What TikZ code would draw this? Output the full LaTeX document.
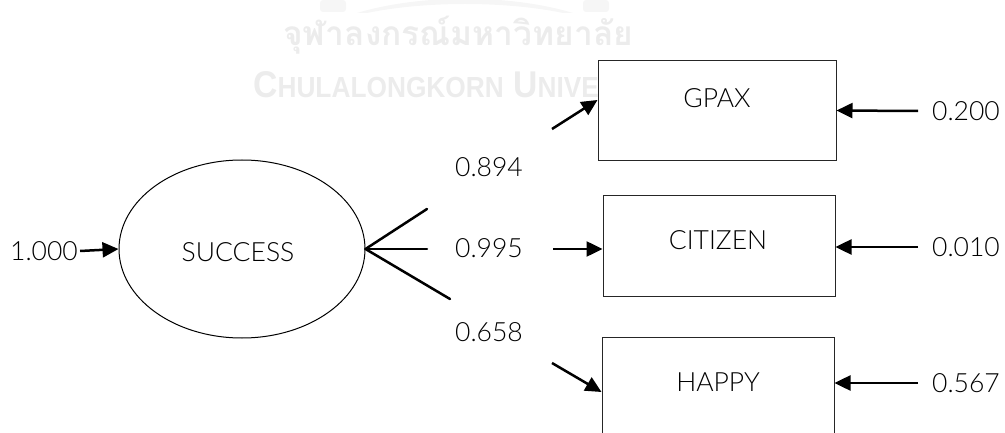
\documentclass[tikz,border=0pt]{standalone}
\usepackage{fontspec}
\IfFontExistsTF{Lato Light}{%
  \setmainfont{Lato Light}\newcommand{\lblsize}{\fontsize{26.5}{32}\selectfont}}{%
  \setmainfont{Carlito}\newcommand{\lblsize}{\fontsize{30}{36}\selectfont}}
\newfontfamily\thaiwm[Script=Thai]{Loma}
\newfontfamily\latinwm{Liberation Sans}
\usetikzlibrary{arrows.meta,shapes.geometric}
\definecolor{wmgray}{RGB}{236,236,236}
\definecolor{logogray}{RGB}{246,246,246}
\begin{document}
\begin{tikzpicture}[x=1pt,y=-1pt,
  lbl/.style={font=\lblsize, inner sep=0pt},
  wmtext/.style={text=wmgray, inner sep=0pt},
  obsbox/.style={draw=black!85, line width=1pt, fill=white, inner sep=0pt, minimum height=100pt},
  conn/.style={line width=2.5pt, line cap=round},
  arr/.style={line width=2.5pt, -{Triangle[length=16pt,width=15pt]}}]
\useasboundingbox (0,0) rectangle (1005,433);
\clip (0,0) rectangle (1005,433);
% watermark logo (faint)
\fill[logogray] (357,13) .. controls (420,-6) and (510,-6) .. (573,13)
  -- (563,13) .. controls (505,1) and (425,1) .. (367,13) -- cycle;
\fill[logogray, rounded corners=3pt] (320,0) rectangle (346,12);
\fill[logogray, rounded corners=3pt] (583,0) rectangle (609,12);
% watermark text
\node[wmtext, anchor=west] (wmthai) at (283,35) {\resizebox{350pt}{!}{\thaiwm\bfseries จุฬาลงกรณ์มหาวิทยาลัย}};
\node[wmtext, anchor=south west] (wmeng) at (253,98) {\resizebox{423pt}{26pt}{\latinwm\bfseries C\scalebox{0.78}{HULALONGKORN} U\scalebox{0.78}{NIVERSITY}}};
% latent
\node[draw, ellipse, line width=1pt, minimum width=246pt, minimum height=178pt, inner sep=0pt] (succ) at (242,249) {};
\node[lbl] (succt) at (238,252) {SUCCESS};
\node[lbl] (one) at (44,251) {1.000};
\draw[arr] (one.east) ++(2pt,0) coordinate (oneE) (oneE) -- (succ.west);
% observed boxes
\node[obsbox, minimum width=238pt] (gpax) at (717,110.5) {};
\node[obsbox, minimum width=232pt] (cit) at (719,246) {};
\node[obsbox, minimum width=232pt] (hap) at (718,387) {};
\node[lbl] (gpaxt) at (717,98) {GPAX};
\node[lbl] (citt) at (718,240) {CITIZEN};
\node[lbl] (hapt) at (718,382) {HAPPY};
% loading lines from ellipse
\coordinate (l1) at (427,209);
\coordinate (l2) at (427,249);
\coordinate (l3) at (450,299);
\draw[conn] (succ.east) -- (l1);
\draw[conn] (succ.east) -- (l2);
\draw[conn] (succ.east) -- (l3);
% loading labels
\node[lbl] (v1) at (489,167) {0.894};
\node[lbl] (v2) at (489,248) {0.995};
\node[lbl] (v3) at (489,332) {0.658};
% arrows into boxes
\coordinate (a1) at (552,129);
\coordinate (a2) at (553,249);
\coordinate (a3) at (552,363);
\draw[arr] (a1) -- ([yshift=10.5pt]gpax.west);
\draw[arr] (a2) -- ([yshift=-3pt]cit.west);
\draw[arr] (a3) -- ([yshift=-5pt]hap.west);
% error terms
\node[lbl] (e1) at (966,111) {0.200};
\node[lbl] (e2) at (966,247) {0.010};
\node[lbl] (e3) at (966,383) {0.567};
\coordinate (r1) at (918,111);
\coordinate (r2) at (918,247);
\coordinate (r3) at (918,383);
\draw[arr] (r1) -- (gpax.east);
\draw[arr] (r2) -- ([yshift=-1pt]cit.east);
\draw[arr] (r3) -- ([yshift=4pt]hap.east);
\end{tikzpicture}
\end{document}
